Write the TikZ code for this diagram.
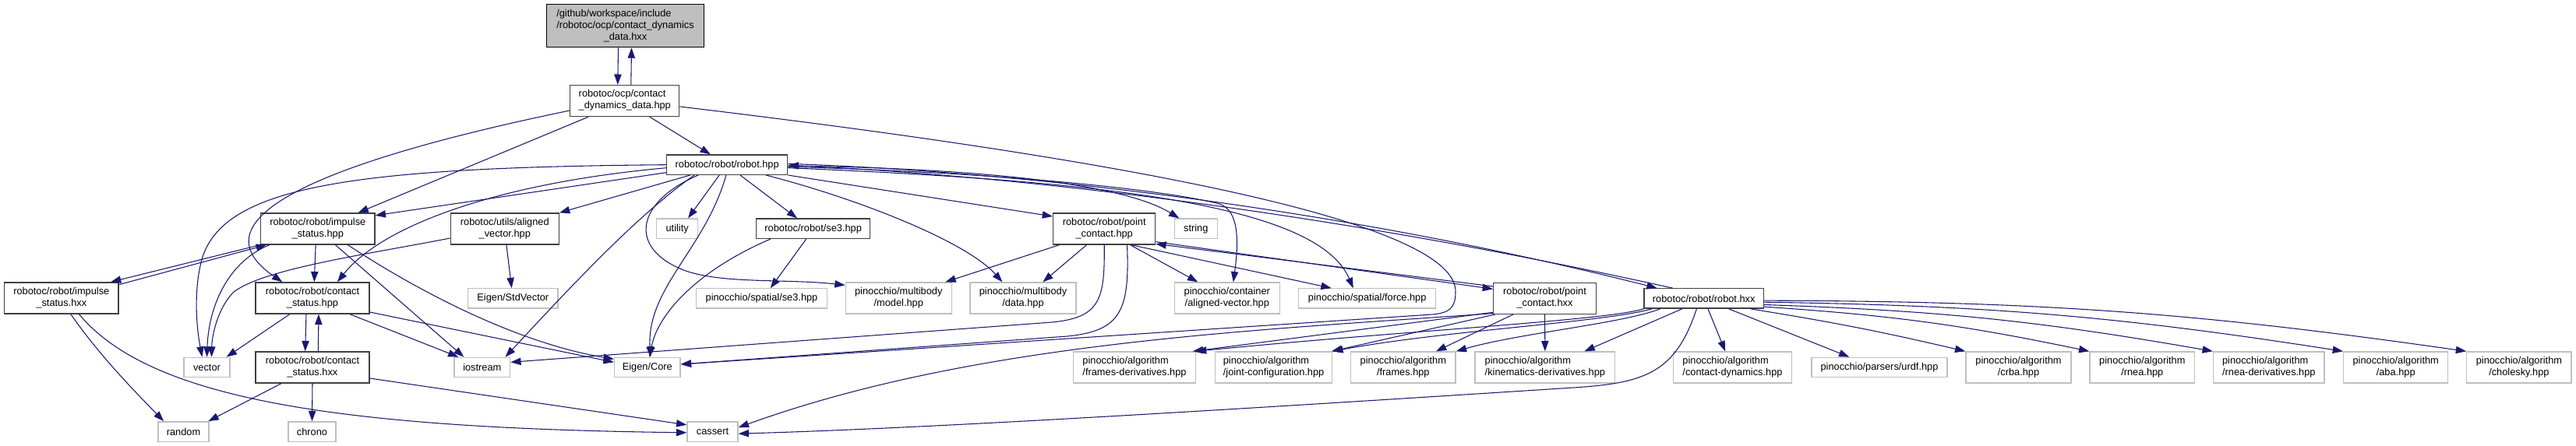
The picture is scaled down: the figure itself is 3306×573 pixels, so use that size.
\documentclass[tikz,border=0pt]{standalone}
\usepackage{fontspec}
\setmainfont{Liberation Sans}
\usepackage{tikz}
\usetikzlibrary{arrows.meta}
\definecolor{depblue}{HTML}{191970}
\definecolor{extgray}{HTML}{BFBFBF}
\definecolor{docgray}{HTML}{404040}
\newcommand{\twoline}[2]{\begin{tabular}{@{}l@{}}#1\\\multicolumn{1}{@{}c@{}}{#2}\end{tabular}}

\begin{document}
\begin{tikzpicture}[x=0.75pt, y=-0.75pt,
    every node/.style={font=\fontsize{9.6pt}{11.25pt}\selectfont, inner sep=0pt},
    doc/.style={draw=docgray, line width=1pt, fill=white},
    ext/.style={draw=extgray, line width=1pt, fill=white},
    self/.style={draw=black, line width=1pt, fill=extgray},
    one/.style={minimum height=19pt},
    two/.style={minimum height=30pt},
    dep/.style={-{Triangle[length=10pt, width=7pt]}, depblue, line width=0.8pt},
]
    \useasboundingbox (0,0) rectangle (3306,573);

    % === files of robotoc ===
    \node[self, minimum width=151.5pt, minimum height=41.25pt] (top) at (802.5,33.2)
        {\begin{tabular}{@{}l@{}}/github/workspace/include\\/robotoc/ocp/contact\_dynamics\\\multicolumn{1}{@{}c@{}}{\_data.hxx}\end{tabular}};
    \node[doc, two, minimum width=105pt] (cdd) at (801.8,129.5) {\twoline{robotoc/ocp/contact}{\_dynamics\_data.hpp}};
    \node[doc, one, minimum width=116.25pt] (robot) at (933.2,211.7) {robotoc/robot/robot.hpp};
    \node[doc, two, minimum width=109.8pt] (imphpp) at (407.8,294) {\twoline{robotoc/robot/impulse}{\_status.hpp}};
    \node[doc, two, minimum width=104.25pt] (avhpp) at (647.8,294) {\twoline{robotoc/utils/aligned}{\_vector.hpp}};
    \node[doc, one, minimum width=109.5pt] (se3) at (1043.7,293.7) {robotoc/robot/se3.hpp};
    \node[doc, two, minimum width=98.25pt] (pchpp) at (1417.2,294) {\twoline{robotoc/robot/point}{\_contact.hpp}};
    \node[doc, two, minimum width=109.8pt] (imphxx) at (78.8,383) {\twoline{robotoc/robot/impulse}{\_status.hxx}};
    \node[doc, two, minimum width=109.5pt] (cshpp) at (401,383) {\twoline{robotoc/robot/contact}{\_status.hpp}};
    \node[doc, two, minimum width=98.7pt] (pchxx) at (1982.5,383.3) {\twoline{robotoc/robot/point}{\_contact.hxx}};
    \node[doc, one, minimum width=115pt] (robothxx) at (2186.7,383.5) {robotoc/robot/robot.hxx};
    \node[doc, two, minimum width=109.5pt] (cshxx) at (401,472) {\twoline{robotoc/robot/contact}{\_status.hxx}};

    % === system and library headers ===
    \node[ext, one, minimum width=39.75pt] (utility) at (869.2,293.7) {utility};
    \node[ext, one, minimum width=41.25pt] (string) at (1534.8,293.8) {string};
    \node[ext, one, minimum width=86.6pt] (stdvector) at (658.3,383.5) {Eigen/StdVector};
    \node[ext, one, minimum width=126.3pt] (spse3) at (977.5,383.5) {pinocchio/spatial/se3.hpp};
    \node[ext, two, minimum width=102pt] (model) at (1153.3,383) {\twoline{pinocchio/multibody}{/model.hpp}};
    \node[ext, two, minimum width=102pt] (data) at (1313,383) {\twoline{pinocchio/multibody}{/data.hpp}};
    \node[ext, two, minimum width=101.25pt] (container) at (1574.8,383) {\twoline{pinocchio/container}{/aligned-vector.hpp}};
    \node[ext, one, minimum width=132pt] (force) at (1754.7,383.5) {pinocchio/spatial/force.hpp};
    \node[ext, one, minimum width=44.25pt] (vector) at (265.5,472) {vector};
    \node[ext, one, minimum width=53.6pt] (iostream) at (618.8,472) {iostream};
    \node[ext, one, minimum width=63.4pt] (eigen) at (830.8,472) {Eigen/Core};
    \node[ext, two, minimum width=117.3pt] (framesd) at (1456,472) {\twoline{pinocchio/algorithm}{/frames-derivatives.hpp}};
    \node[ext, two, minimum width=112.5pt] (jointcfg) at (1634.6,472) {\twoline{pinocchio/algorithm}{/joint-configuration.hpp}};
    \node[ext, two, minimum width=100.9pt] (frames) at (1800.8,472) {\twoline{pinocchio/algorithm}{/frames.hpp}};
    \node[ext, two, minimum width=134.8pt] (kind) at (1982.9,472) {\twoline{pinocchio/algorithm}{/kinematics-derivatives.hpp}};
    \node[ext, two, minimum width=114pt] (contdyn) at (2223.5,472) {\twoline{pinocchio/algorithm}{/contact-dynamics.hpp}};
    \node[ext, one, minimum width=130.5pt] (urdf) at (2412,472) {pinocchio/parsers/urdf.hpp};
    \node[ext, two, minimum width=101.25pt] (crba) at (2590.5,472) {\twoline{pinocchio/algorithm}{/crba.hpp}};
    \node[ext, two, minimum width=100.9pt] (rnea) at (2749.3,472) {\twoline{pinocchio/algorithm}{/rnea.hpp}};
    \node[ext, two, minimum width=106.9pt] (rnead) at (2911.8,472) {\twoline{pinocchio/algorithm}{/rnea-derivatives.hpp}};
    \node[ext, two, minimum width=100.5pt] (aba) at (3074.7,472) {\twoline{pinocchio/algorithm}{/aba.hpp}};
    \node[ext, two, minimum width=100.7pt] (cholesky) at (3232.9,472) {\twoline{pinocchio/algorithm}{/cholesky.hpp}};
    \node[ext, one, minimum width=48.75pt] (random) at (235.5,554.5) {random};
    \node[ext, one, minimum width=45.75pt] (chrono) at (400.5,554.5) {chrono};
    \node[ext, one, minimum width=48.75pt] (cassert) at (914.5,554.5) {cassert};

    % === contact_dynamics_data ===
    \draw[dep] ([xshift=-6.75pt]top.south) -- ([xshift=-6.75pt]cdd.north);
    \draw[dep] ([xshift=6pt]cdd.north) -- ([xshift=6pt]top.south);
    \draw[dep] ([xshift=24pt]cdd.south) -- ([xshift=-16pt]robot.north);
    \draw[dep] ([xshift=-35pt]cdd.south) -- ([xshift=38.8pt]imphpp.north);
    \draw[dep] ([yshift=-9.4pt]cdd.west) .. controls (450,200) and (235,275) .. ([xshift=-29pt]cshpp.north);
    \draw[dep] ([yshift=-5.6pt]cdd.east) .. controls (1400,200) and (1870,280) .. (1868,375)
        .. controls (1868,396) and (1860,402) .. (1838,404) -- ([yshift=3pt]eigen.east);

    % === robot.hpp ===
    \draw[dep] ([yshift=-7.5pt]robot.west) -- ([yshift=-2.6pt]imphpp.north east);
    \draw[dep] ([yshift=-3pt]robot.west) .. controls (640,235) and (490,290) .. ([xshift=24pt]cshpp.north);
    \draw[dep] (robot.west) .. controls (450,215) and (290,240) .. (260,330)
        .. controls (248,370) and (252,420) .. ([xshift=-4.5pt]vector.north);
    \draw[dep] ([xshift=23pt]robot.south west) -- (avhpp.north east);
    \draw[dep] ([xshift=27pt]robot.south west) .. controls (820,275) and (740,360) .. ([xshift=-5pt]iostream.north east);
    \draw[dep] ([xshift=30.75pt]robot.south west) .. controls (815,260) and (805,320) .. (880,348)
        .. controls (930,365) and (1010,358) .. ([yshift=-3pt]model.north west);
    \draw[dep] ([xshift=-7.6pt]robot.south) -- ([xshift=10.4pt]utility.north);
    \draw[dep] ([xshift=-1pt]robot.south) .. controls (905,320) and (830,370) .. ([xshift=3pt]eigen.north);
    \draw[dep] ([xshift=12.6pt]robot.south) -- ([xshift=-15.5pt]se3.north);
    \draw[dep] ([xshift=37.4pt]robot.south) .. controls (1100,255) and (1240,310) .. ([xshift=-20pt]data.north);
    \draw[dep] (robot.south east) -- ([yshift=-3.5pt]pchpp.north west);
    \draw[dep] ([yshift=-1pt]robot.east) .. controls (1250,216) and (1440,235) .. ([xshift=5pt]string.north west);
    \draw[dep] ([yshift=-2pt]robot.east) .. controls (1300,222) and (1500,245) .. (1565,262)
        .. controls (1590,270) and (1590,310) .. ([xshift=6pt]container.north);
    \draw[dep] ([yshift=-3pt]robot.east) .. controls (1400,232) and (1690,260) .. ([xshift=-13.5pt]force.north);
    \draw[dep] ([yshift=1pt]robot.east) .. controls (1350,222) and (1750,275) .. ([xshift=-45pt]robothxx.north);
    \draw[dep] ([xshift=-30pt]robothxx.north) .. controls (1750,282) and (1350,228) .. ([yshift=-0.5pt]robot.east);

    % === se3 and aligned_vector ===
    \draw[dep] ([xshift=-6.75pt]se3.south) -- ([xshift=8.5pt]spse3.north);
    \draw[dep] ([xshift=-41pt]se3.south) .. controls (900,345) and (845,400) .. ([xshift=2pt]eigen.north);
    \draw[dep] ([xshift=1.6pt]avhpp.south) -- ([xshift=-1.2pt]stdvector.north);
    \draw[dep] ([yshift=-9pt]avhpp.west) .. controls (470,327) and (340,345) .. (300,375)
        .. controls (280,395) and (272,430) .. ([xshift=4.5pt]vector.north);

    % === impulse_status ===
    \draw[dep] ([xshift=-2pt]imphpp.south) -- ([xshift=1.7pt]cshpp.north);
    \draw[dep] ([xshift=17pt]imphpp.south) -- ([xshift=9.75pt]iostream.north west);
    \draw[dep] ([xshift=29pt]imphpp.south) .. controls (530,370) and (660,440) .. ([yshift=-2pt]eigen.north west);
    \draw[dep] (imphpp.south west) -- ([xshift=-8pt]imphxx.north east);
    \draw[dep] ([yshift=-2.5pt]imphxx.north east) -- ([xshift=6pt]imphpp.south west);
    \draw[dep] ([xshift=9pt]imphpp.south west) .. controls (295,335) and (268,390) .. (vector.north);
    \draw[dep] ([xshift=9pt]imphxx.south) .. controls (130,460) and (180,510) .. ([xshift=-19pt]random.north);
    \draw[dep] ([xshift=17pt]imphxx.south) .. controls (190,510) and (420,550) .. ([yshift=-1pt]cassert.west);

    % === contact_status ===
    \draw[dep] ([xshift=-21.9pt]cshpp.south) -- ([xshift=-3.75pt]vector.north east);
    \draw[dep] ([xshift=-6pt]cshpp.south) -- ([xshift=-7pt]cshxx.north);
    \draw[dep] ([xshift=5.5pt]cshxx.north) -- ([xshift=6pt]cshpp.south);
    \draw[dep] ([xshift=36pt]cshpp.south) -- ([xshift=4.5pt]iostream.north west);
    \draw[dep] ([yshift=2pt]cshpp.south east) -- ([yshift=5pt]eigen.west);
    \draw[dep] ([xshift=-30pt]cshxx.south) -- ([xshift=-1pt]random.north east);
    \draw[dep] (cshxx.south) -- (chrono.north);
    \draw[dep] ([yshift=5pt]cshxx.south east) -- ([yshift=-3.5pt]cassert.north west);

    % === point_contact ===
    \draw[dep] ([xshift=-43.3pt]pchpp.south) -- ([xshift=-6.5pt]model.north east);
    \draw[dep] ([xshift=-17pt]pchpp.south) -- ([xshift=19pt]data.north);
    \draw[dep] ([xshift=25pt]pchpp.south) -- ([xshift=23pt]container.north west);
    \draw[dep] ([xshift=26pt]pchpp.south) -- ([xshift=32pt]force.north west);
    \draw[dep] ([yshift=3pt]pchpp.south east) -- ([yshift=-6.5pt]pchxx.north west);
    \draw[dep] ([yshift=-4pt]pchxx.north west) -- ([yshift=1pt]pchpp.south east);
    \draw[dep] (pchpp.south) .. controls (1418,385) and (1412,408) .. (1350,414) -- ([yshift=5pt]iostream.east);
    \draw[dep] ([xshift=22pt]pchpp.south) .. controls (1450,400) and (1438,425) .. (1370,432) -- ([yshift=3pt]eigen.east);
    \draw[dep] ([yshift=2pt]pchxx.south west) -- ([xshift=-3pt]framesd.north east);
    \draw[dep] ([xshift=2pt]pchxx.south west) -- ([xshift=-1pt]jointcfg.north east);
    \draw[dep] ([xshift=-30.4pt]pchxx.south) -- ([xshift=31.6pt]frames.north);
    \draw[dep] (pchxx.south) -- (kind.north);
    \draw[dep] ([yshift=1pt]pchxx.south west) .. controls (1600,425) and (1250,440) .. ([yshift=4pt]cassert.east);

    % === robot.hxx ===
    \draw[dep] (robothxx.south west) .. controls (2060,412) and (1800,425) .. (framesd.north east);
    \draw[dep] ([xshift=8pt]robothxx.south west) .. controls (2060,414) and (1850,425) .. (jointcfg.north east);
    \draw[dep] ([xshift=16pt]robothxx.south west) .. controls (2080,416) and (1950,428) .. (frames.north east);
    \draw[dep] ([xshift=-21pt]robothxx.south) -- ([xshift=-30pt]kind.north east);
    \draw[dep] ([xshift=4pt]robothxx.south) -- ([xshift=-7pt]contdyn.north);
    \draw[dep] ([xshift=24pt]robothxx.south) -- ([xshift=-29pt]urdf.north);
    \draw[dep] ([xshift=-13pt]robothxx.south east) to[bend left=2] (crba.north west);
    \draw[dep] ([yshift=-8pt]robothxx.east) to[bend left=4] (rnea.north west);
    \draw[dep] ([yshift=-6pt]robothxx.east) to[bend left=4] (rnead.north west);
    \draw[dep] ([yshift=-3.5pt]robothxx.east) to[bend left=4] (aba.north west);
    \draw[dep] ([yshift=-2pt]robothxx.east) to[bend left=4] (cholesky.north west);
    \draw[dep] ([xshift=-7pt]robothxx.south) .. controls (2150,480) and (2110,492) .. (2020,498)
        .. controls (1600,525) and (1200,550) .. ([yshift=-2pt]cassert.east);
\end{tikzpicture}
\end{document}
